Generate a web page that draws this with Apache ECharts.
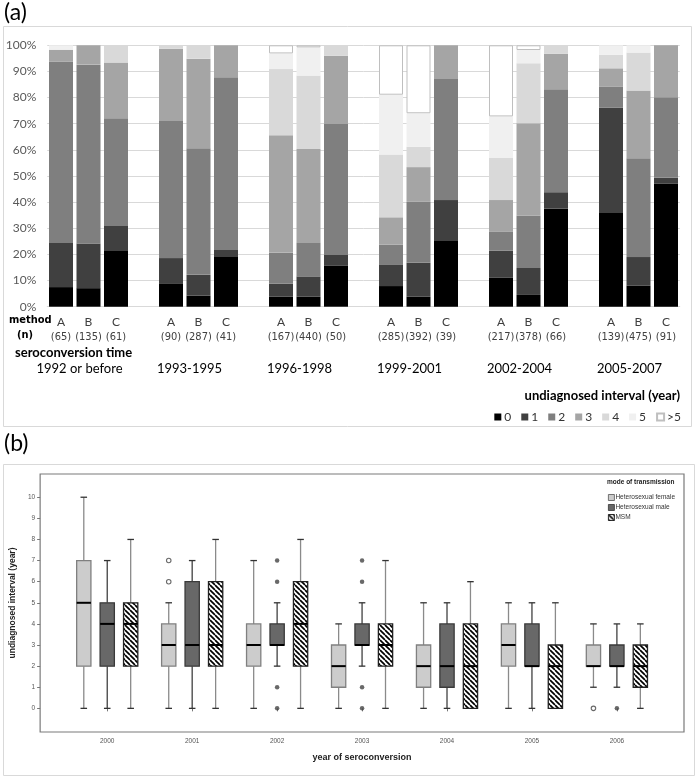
<!DOCTYPE html>
<html><head><meta charset="utf-8">
<script src="https://cdn.jsdelivr.net/npm/echarts@6/dist/echarts.min.js"></script>
<style>html,body{margin:0;padding:0;background:#fff}#c{width:700px;height:778px}</style>
</head><body><div id="c"></div>
<script>
// ---------- panel (a) data ----------
const groups = ['1992 or before','1993-1995','1996-1998','1999-2001','2002-2004','2005-2007'];
const methods = ['A','B','C'];
const counts = [65,135,61, 90,287,41, 167,440,50, 285,392,39, 217,378,66, 139,475,91];
const intervalNames = ['0','1','2','3','4','5','>5'];
const share0 = [7.5,7.1,21.3, 8.7,4.2,19.3, 3.8,3.8,15.8, 7.9,3.8,25.4, 11.2,4.5,37.6, 35.8,8.0,47.1];
const share1 = [16.9,17.1,9.6, 9.9,8.0,2.4, 5.0,7.8,4.0, 8.3,13.0,15.4, 10.2,10.3,6.2, 40.3,11.0,2.3];
const share2 = [69.4,68.4,41.2, 52.4,48.4,66.1, 11.9,12.8,50.1, 7.5,23.3,46.3, 7.4,20.0,39.4, 8.0,37.8,30.7];
const share3 = [4.5,7.4,21.3, 27.7,34.3,12.2, 44.9,35.9,26.1, 10.5,13.3,12.9, 12.0,35.4,13.6, 7.1,25.9,19.9];
const share4 = [0,0,6.6, 1.3,5.1,0, 25.3,28.1,4.0, 24.0,7.8,0, 16.1,22.9,3.2, 5.2,14.5,0];
const share5 = [1.7,0,0, 0,0,0, 6.0,10.8,0, 22.9,12.8,0, 15.9,5.1,0, 3.6,2.8,0];
const share6 = [0,0,0, 0,0,0, 3.1,0.8,0, 18.9,26.0,0, 27.2,1.8,0, 0,0,0];
const shares = [share0,share1,share2,share3,share4,share5,share6];
const intervalColors = ['#000000','#404040','#7f7f7f','#a5a5a5','#d9d9d9','#f0f0f0','#ffffff'];

// ---------- panel (b) data ----------
const years = [2000,2001,2002,2003,2004,2005,2006];
const modes = ['Heterosexual female','Heterosexual male','MSM'];
// [min, q1, median, q3, max]
const femaleStats = [[0,2,5,7,10],[0,2,3,4,5],[0,2,3,4,7],[0,1,2,3,4],[0,1,2,3,5],[0,2,3,4,5],[1,2,2,3,4]];
const maleStats   = [[0,2,4,5,7],[0,2,3,6,7],[2,3,3,4,5],[2,3,3,4,5],[0,1,2,4,5],[0,2,2,4,5],[1,2,2,3,4]];
const msmStats    = [[0,2,4,5,8],[0,2,3,6,8],[0,2,4,6,8],[0,2,3,4,7],[0,0,2,4,6],[0,0,2,3,5],[0,1,2,3,4]];
const femaleOutliers = [[2001,6],[2001,7],[2006,0]];
const maleOutliers = [[2002,0],[2002,1],[2002,6],[2002,7],[2003,0],[2003,1],[2003,6],[2003,7],[2006,0]];
const msmOutliers = [];
const yTicks = [0,1,2,3,4,5,6,7,8,9,10];

// ---------- build categories for (a) ----------
const cats = [];
const catIndexOfBar = [];
groups.forEach((g, gi) => {
  methods.forEach((m, mi) => {
    const k = gi*3+mi;
    catIndexOfBar.push(cats.length);
    cats.push(m + '|' + counts[k] + '|' + gi);
  });
  if (gi < groups.length-1) cats.push('gap|' + gi);
});
function seriesData(arr){
  const d = cats.map(() => '-');
  arr.forEach((v,k) => { d[catIndexOfBar[k]] = v === 0 ? '-' : v; });
  return d;
}

// hatch pattern
const hc = document.createElement('canvas');
const S = 5; hc.width = S; hc.height = S;
const hx = hc.getContext('2d');
hx.fillStyle = '#fff'; hx.fillRect(0,0,S,S);
hx.strokeStyle = '#000'; hx.lineWidth = 1.7;
[-S,0,S].forEach(o => { hx.beginPath(); hx.moveTo(o,0); hx.lineTo(o+S,S); hx.stroke(); });
const hatch = {image: hc, repeat: 'repeat'};

const boxW = 0.168;
const offs = [-0.276, 0, 0.276];
const boxStyles = [
  {fill:'#cccccc', stroke:'#808080', stem:'#8a8a8a'},
  {fill:'#686868', stroke:'#3a3a3a', stem:'#404040'},
  {fill:hatch, stroke:'#222222', stem:'#8a8a8a'}
];
function makeRender(mi){
  const st = boxStyles[mi];
  return function(params, api){
    const x = api.value(0) + offs[mi];
    const lo = api.coord([x, api.value(1)]);
    const q1 = api.coord([x, api.value(2)]);
    const md = api.coord([x, api.value(3)]);
    const q3 = api.coord([x, api.value(4)]);
    const hi = api.coord([x, api.value(5)]);
    const w = api.size([boxW, 0])[0];
    const cw = w*0.46;
    const cx = lo[0];
    const ch = [];
    if (hi[1] < q3[1]) ch.push({type:'line', shape:{x1:cx,y1:hi[1],x2:cx,y2:q3[1]}, style:{stroke:st.stem, lineWidth:1.3}});
    if (lo[1] > q1[1]) ch.push({type:'line', shape:{x1:cx,y1:q1[1],x2:cx,y2:lo[1]}, style:{stroke:st.stem, lineWidth:1.3}});
    ch.push({type:'line', shape:{x1:cx-cw/2,y1:hi[1],x2:cx+cw/2,y2:hi[1]}, style:{stroke:'#333', lineWidth:1.3}});
    ch.push({type:'line', shape:{x1:cx-cw/2,y1:lo[1],x2:cx+cw/2,y2:lo[1]}, style:{stroke:'#333', lineWidth:1.3}});
    ch.push({type:'rect', shape:{x:cx-w/2, y:q3[1], width:w, height:q1[1]-q3[1]}, style:{fill:st.fill, stroke:st.stroke, lineWidth:1.3}});
    ch.push({type:'line', shape:{x1:cx-w/2,y1:md[1],x2:cx+w/2,y2:md[1]}, style:{stroke:'#000', lineWidth:2}});
    return {type:'group', children: ch};
  };
}
const statsAll = [femaleStats, maleStats, msmStats];
const outAll = [femaleOutliers, maleOutliers, msmOutliers];

const calibri = 'Lato, "Open Sans", sans-serif';
const narrow = '"Liberation Sans Narrow", "DejaVu Sans Condensed", sans-serif';
const arial = '"Liberation Sans", Arial, sans-serif';

const series = [];
shares.forEach((arr, i) => {
  series.push({
    name: intervalNames[i], type:'bar', stack:'a', xAxisIndex:0, yAxisIndex:0,
    barWidth: 24, data: seriesData(arr),
    itemStyle: i === 6 ? {color:'#ffffff', borderColor:'#bfbfbf', borderWidth:1} : {color: intervalColors[i]},
    emphasis:{disabled:true}, silent:true
  });
});
statsAll.forEach((stats, mi) => {
  series.push({
    name: modes[mi], type:'custom', xAxisIndex:2, yAxisIndex:1,
    data: years.map((y, k) => [y].concat(stats[k])),
    encode: {x:0, y:[1,2,3,4,5]},
    renderItem: makeRender(mi),
    itemStyle: {color: mi === 2 ? '#000' : boxStyles[mi].fill},
    silent:true
  });
});
outAll.forEach((outs, mi) => {
  series.push({
    name: 'out' + mi, type:'scatter', xAxisIndex:2, yAxisIndex:1,
    data: outs.map(p => [p[0] + offs[mi], p[1]]),
    symbol: 'circle', symbolSize: 4.5,
    itemStyle: mi === 0 ? {color:'#ffffff', borderColor:'#444', borderWidth:1.1} : {color:'#444'},
    silent:true
  });
});

const chart = echarts.init(document.getElementById('c'));
chart.setOption({
  animation:false,
  backgroundColor:'#fff',
  graphic:[
    {type:'rect', shape:{x:3.5,y:26.5,width:688,height:400}, style:{fill:'none', stroke:'#d9d9d9', lineWidth:1}, z:-1},
    {type:'rect', shape:{x:3.5,y:464.5,width:691,height:311}, style:{fill:'none', stroke:'#d9d9d9', lineWidth:1}, z:-1}
  ],
  title:[
    {text:'(a)', left:4, top:1, padding:0, textStyle:{fontSize:23, fontWeight:'normal', fontFamily:calibri, color:'#000'}},
    {text:'(b)', left:4, top:432, padding:0, textStyle:{fontSize:23, fontWeight:'normal', fontFamily:calibri, color:'#000'}},
    {text:'method', left:9, top:315, padding:0, textStyle:{fontSize:11, fontWeight:'bold', fontFamily:narrow, color:'#000'}},
    {text:'(n)', left:17, top:330, padding:0, textStyle:{fontSize:11, fontWeight:'bold', fontFamily:narrow, color:'#000'}},
    {text:'seroconversion time', left:15, top:346, padding:0, textStyle:{fontSize:13, fontWeight:'bold', fontFamily:calibri, color:'#000'}},
    {text:'undiagnosed interval (year)', right:20, top:389, padding:0, textStyle:{fontSize:13, fontWeight:'bold', fontFamily:calibri, color:'#000'}},
    {text:'mode of transmission', left:607, top:479, padding:0, textStyle:{fontSize:6.5, fontWeight:'bold', fontFamily:arial, color:'#222'}}
  ],
  legend:[
    {data:intervalNames, right:14, top:406, itemWidth:7, itemHeight:7, itemGap:10, icon:'rect',
     textStyle:{fontSize:12, fontFamily:calibri, color:'#333', padding:[0,0,0,-2]}, selectedMode:false},
    {data:[{name:modes[0], itemStyle:{color:'#cccccc', borderColor:'#555', borderWidth:0.8}},
           {name:modes[1], itemStyle:{color:'#686868', borderColor:'#333', borderWidth:0.8}},
           {name:modes[2], itemStyle:{color:hatch, borderColor:'#000', borderWidth:0.8}}],
     left:603, top:489, orient:'vertical', itemWidth:6, itemHeight:6, itemGap:3, icon:'rect',
     textStyle:{fontSize:6.5, fontFamily:arial, color:'#333', padding:[0,0,0,-4]}, selectedMode:false}
  ],
  grid:[
    {left:47.25, right:20.25, top:45.3, bottom:471.3},
    {left:37, right:16, top:474, bottom:46, show:true, borderColor:'#7a7a7a', borderWidth:1.2}
  ],
  xAxis:[
    {type:'category', gridIndex:0, data:cats,
     axisLine:{lineStyle:{color:'#d9d9d9'}}, axisTick:{show:false},
     axisLabel:{interval:0, margin:8, color:'#404040',
       formatter: v => { const p = v.split('|'); return p[0]==='gap' ? '' : '{m|'+p[0]+'}\n{n|('+p[1]+')}'; },
       rich:{m:{fontSize:12, lineHeight:15, fontFamily:calibri, color:'#404040'}, n:{fontSize:11, lineHeight:15, fontFamily:narrow, color:'#404040'}}}},
    {type:'category', gridIndex:0, data:cats, position:'bottom',
     axisLine:{show:false}, axisTick:{show:false},
     axisLabel:{interval:0, margin:56, fontSize:13, fontFamily:calibri, color:'#000', padding:[0,18,0,0],
       formatter: v => { const p = v.split('|'); return (p[0]==='B') ? groups[+p[2]] : ''; }}},
    {type:'value', gridIndex:1, min:1999.21, max:2006.79,
     name:'year of seroconversion', nameLocation:'middle', nameGap:21,
     nameTextStyle:{fontSize:9, fontWeight:'bold', fontFamily:arial, color:'#222'},
     axisLine:{show:false}, splitLine:{show:false},
     axisTick:{show:true, length:3, customValues:years, lineStyle:{color:'#777'}},
     axisLabel:{customValues:years, formatter: v => String(Math.round(v)), fontSize:6.5, margin:6, color:'#555', fontFamily:arial}}
  ],
  yAxis:[
    {type:'value', gridIndex:0, min:0, max:100, interval:10,
     axisLine:{show:false}, axisTick:{show:false},
     splitLine:{lineStyle:{color:'#d9d9d9'}},
     axisLabel:{formatter:'{value}%', fontSize:12, margin:11, color:'#595959', fontFamily:calibri}},
    {type:'value', gridIndex:1, min:-1.12, max:11.1,
     name:'undiagnosed interval (year)', nameLocation:'middle', nameGap:19,
     nameTextStyle:{fontSize:8.5, fontWeight:'bold', fontFamily:arial, color:'#222'},
     axisLine:{show:false}, splitLine:{show:false},
     axisTick:{show:true, length:3, customValues:yTicks, lineStyle:{color:'#777'}},
     axisLabel:{customValues:yTicks, formatter: v => String(Math.round(v)), fontSize:6.5, margin:5, color:'#555', fontFamily:arial}}
  ],
  series: series
});
</script></body></html>
